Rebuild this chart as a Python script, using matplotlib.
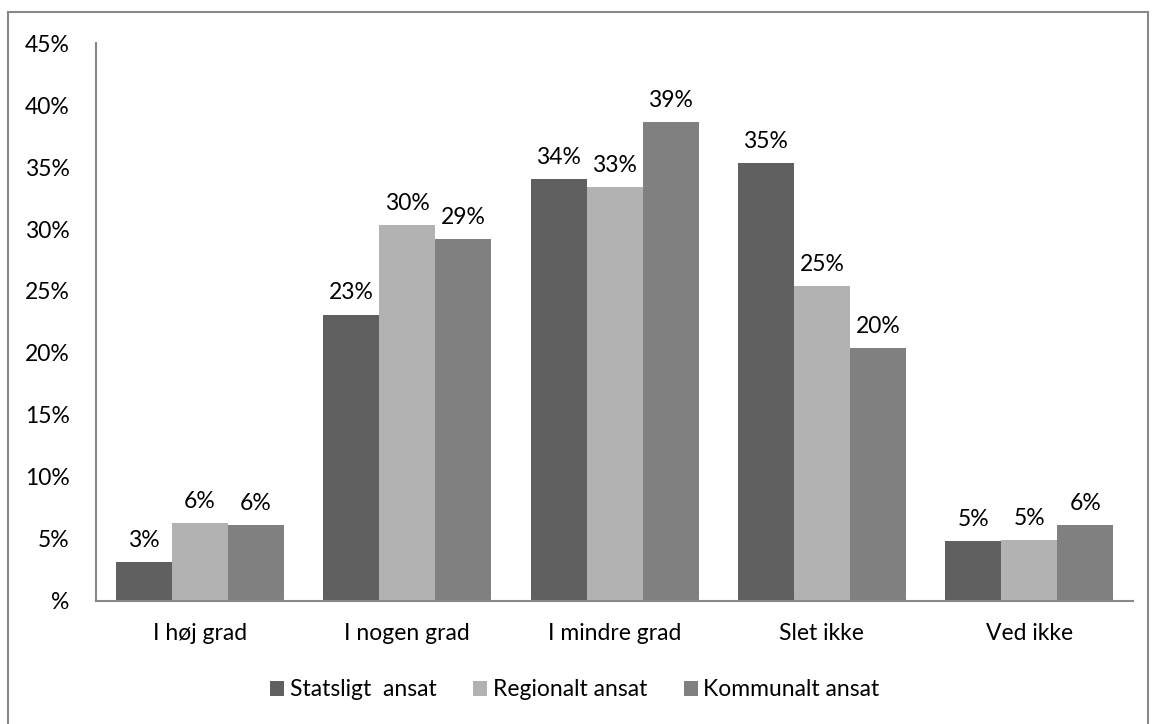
import numpy as np
import matplotlib.pyplot as plt
from matplotlib.patches import Rectangle

categories = ['I høj grad', 'I nogen grad', 'I mindre grad', 'Slet ikke', 'Ved ikke']
series_names = ['Statsligt  ansat', 'Regionalt ansat', 'Kommunalt ansat']
statsligt = [3.15, 23.1, 34.0, 35.3, 4.8]
regionalt = [6.3, 30.3, 33.4, 25.4, 4.9]
kommunalt = [6.1, 29.2, 38.6, 20.4, 6.1]
colors = ['#606060', '#b2b2b2', '#808080']
yticks = [0, 5, 10, 15, 20, 25, 30, 35, 40, 45]

plt.rcParams['font.family'] = ['Lato', 'DejaVu Sans']
FS = 16.5

fig = plt.figure(figsize=(11.54, 7.24), dpi=100)
ax = fig.add_axes([0.0832, 0.1699, 0.8986, 0.7707])

# outer chart border
fig.patches.append(Rectangle((8 / 1154, -0.01), 1140 / 1154, 1 - 12 / 724 + 0.01,
                             transform=fig.transFigure, fill=False,
                             edgecolor='#888888', linewidth=1.5))

x = np.arange(len(categories))
w = 0.27
all_series = [statsligt, regionalt, kommunalt]
for i, vals in enumerate(all_series):
    pos = x + (i - 1) * w
    ax.bar(pos, vals, width=w, color=colors[i], label=series_names[i])
    for px, v in zip(pos, vals):
        ax.text(px, v + 0.9, f'{round(v):.0f}%', ha='center', va='bottom', fontsize=FS)

ax.set_xlim(-0.5, len(categories) - 0.5)
ax.set_ylim(0, 45)
ax.set_yticks(yticks)
ax.set_yticklabels(['%' if t == 0 else f'{t}%' for t in yticks], fontsize=FS)
ax.set_xticks(x)
ax.set_xticklabels(categories, fontsize=FS)
ax.tick_params(length=0)
ax.tick_params(axis='x', pad=16)
ax.tick_params(axis='y', pad=19)
for s in ['top', 'right']:
    ax.spines[s].set_visible(False)
for s in ['left', 'bottom']:
    ax.spines[s].set_color('#888888')
    ax.spines[s].set_linewidth(1.5)

ax.legend(loc='center', bbox_to_anchor=(575 / 1154, 1 - 690 / 724), bbox_transform=fig.transFigure,
          ncol=3, frameon=False, fontsize=FS, handlelength=0.6, handleheight=0.6,
          handletextpad=0.25, columnspacing=1.6)

fig.savefig('out.png', dpi=100)
